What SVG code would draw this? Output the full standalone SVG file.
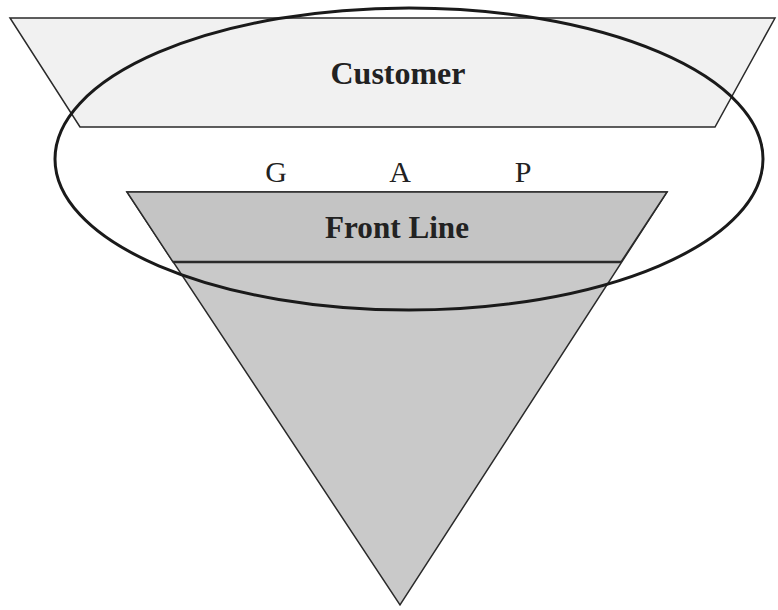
<svg xmlns="http://www.w3.org/2000/svg" width="778" height="610" viewBox="0 0 778 610">
<style>
.shape{stroke:#2a2a2a;stroke-width:1.5;stroke-linejoin:miter}
.lbl{font-family:"Liberation Serif","DejaVu Serif",serif;fill:#222;text-anchor:middle}
.b{font-weight:bold;font-size:32px}
.gap{font-size:30px}
</style>
<rect width="778" height="610" fill="#ffffff"/>
<g id="customer">
<polygon class="shape" points="10,18 775,18 715,127 80,127" fill="#f1f1f1"/>
<text class="lbl b" x="398" y="84" textLength="135" lengthAdjust="spacingAndGlyphs">Customer</text>
</g>
<g id="pyramid">
<polygon class="shape" points="127,192 667,192 400,605" fill="#c9c9c9"/>
</g>
<g id="frontline">
<polygon class="shape" points="127,192 667,192 621,262 173,262" fill="#c4c4c4"/>
<line x1="173" y1="262" x2="621" y2="262" stroke="#2a2a2a" stroke-width="2.5"/>
<text class="lbl b" x="397" y="238" textLength="144" lengthAdjust="spacingAndGlyphs">Front Line</text>
</g>
<g id="gap">
<ellipse cx="409" cy="159" rx="354" ry="151" fill="none" stroke="#1a1a1a" stroke-width="3"/>
<text class="lbl gap" x="276" y="182">G</text>
<text class="lbl gap" x="400" y="182">A</text>
<text class="lbl gap" x="523" y="182">P</text>
</g>
<g id="connectors"/>
</svg>
